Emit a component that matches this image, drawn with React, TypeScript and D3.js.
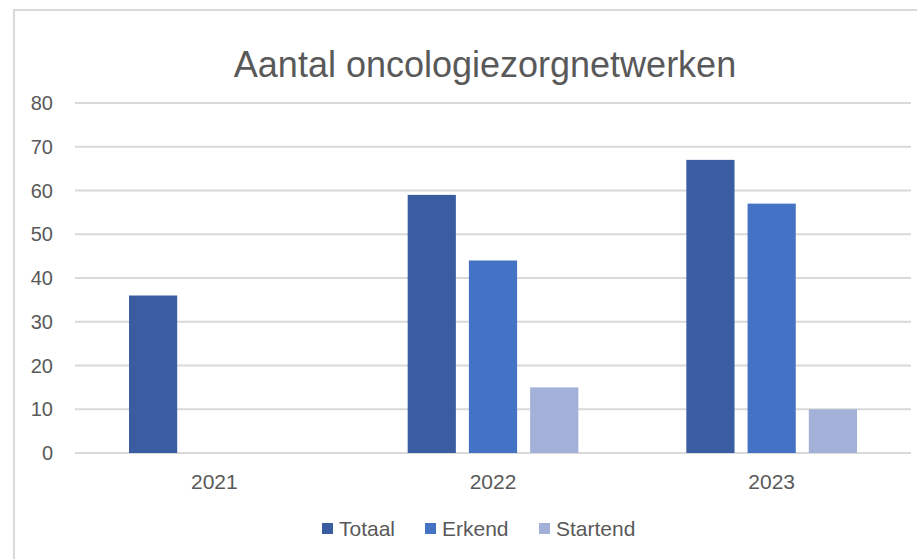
import { useEffect, useRef } from 'react';
import * as d3 from 'd3';

const years = ['2021', '2022', '2023'];
const seriesNames = ['Totaal', 'Erkend', 'Startend'];
const totaal = [36, 59, 67];
const erkend = [0, 44, 57];
const startend = [0, 15, 10];
const yTicks = [0, 10, 20, 30, 40, 50, 60, 70, 80];
const colors = ['#3a5da2', '#4472c4', '#a3b1d9'];

export default function App() {
  const svgRef = useRef<SVGSVGElement>(null);

  useEffect(() => {
    if (!svgRef.current) return;
    const svg = d3.select(svgRef.current);
    svg.selectAll('*').remove();

    const width = 917;
    const height = 559;
    const font = '"Liberation Sans", Arial, sans-serif';

    svg.attr('width', width).attr('height', height);

    svg.append('rect').attr('width', width).attr('height', height).attr('fill', '#ffffff');

    // frame (only top and left visible)
    svg.append('path')
      .attr('d', `M14,${height} L14,10 L${width},10`)
      .attr('fill', 'none')
      .attr('stroke', '#d9d9d9')
      .attr('stroke-width', 2);

    const left = 75;
    const right = 911;
    const y = d3.scaleLinear().domain([0, 80]).range([453, 103]);
    const x0 = d3.scaleBand().domain(years).range([left, right]).padding(0);
    const bw = x0.bandwidth();
    const x1 = d3.scaleBand()
      .domain(seriesNames)
      .range([54, bw - 54])
      .paddingInner(0.213)
      .paddingOuter(0);

    // gridlines
    svg.append('g')
      .selectAll('line')
      .data(yTicks)
      .enter()
      .append('line')
      .attr('x1', left)
      .attr('x2', right)
      .attr('y1', d => y(d))
      .attr('y2', d => y(d))
      .attr('stroke', '#d9d9d9')
      .attr('stroke-width', 2);

    // y labels
    svg.append('g')
      .selectAll('text')
      .data(yTicks)
      .enter()
      .append('text')
      .attr('x', 53)
      .attr('y', d => y(d) + 7)
      .attr('text-anchor', 'end')
      .attr('font-family', font)
      .attr('font-size', 20)
      .attr('fill', '#595959')
      .text(d => d);

    const seriesData = [totaal, erkend, startend];
    const bars = years.flatMap((yr, i) =>
      seriesNames.map((s, j) => ({ yr, s, j, v: seriesData[j][i] }))
    ).filter(d => d.v > 0);

    svg.append('g')
      .selectAll('rect')
      .data(bars)
      .enter()
      .append('rect')
      .attr('x', d => (x0(d.yr) || 0) + (x1(d.s) || 0))
      .attr('y', d => y(d.v))
      .attr('width', x1.bandwidth())
      .attr('height', d => y(0) - y(d.v))
      .attr('fill', d => colors[d.j]);

    // x labels
    svg.append('g')
      .selectAll('text')
      .data(years)
      .enter()
      .append('text')
      .attr('x', d => (x0(d) || 0) + bw / 2)
      .attr('y', 489)
      .attr('text-anchor', 'middle')
      .attr('font-family', font)
      .attr('font-size', 21)
      .attr('fill', '#595959')
      .text(d => d);

    // title
    svg.append('text')
      .attr('x', 485)
      .attr('y', 77)
      .attr('text-anchor', 'middle')
      .attr('font-family', font)
      .attr('font-size', 36)
      .attr('fill', '#595959')
      .text('Aantal oncologiezorgnetwerken');

    // legend
    const legendX = [322, 425, 539];
    const lg = svg.append('g')
      .selectAll('g')
      .data(seriesNames)
      .enter()
      .append('g')
      .attr('transform', (d, i) => `translate(${legendX[i]},0)`);
    lg.append('rect')
      .attr('x', 0)
      .attr('y', 523)
      .attr('width', 11)
      .attr('height', 11)
      .attr('fill', (d, i) => colors[i]);
    lg.append('text')
      .attr('x', 17)
      .attr('y', 536)
      .attr('font-family', font)
      .attr('font-size', 21)
      .attr('fill', '#595959')
      .text(d => d);
  }, []);

  return (
    <div style={{ position: 'absolute', left: 0, top: 0 }}>
      <svg ref={svgRef} style={{ display: 'block' }}></svg>
    </div>
  );
}
